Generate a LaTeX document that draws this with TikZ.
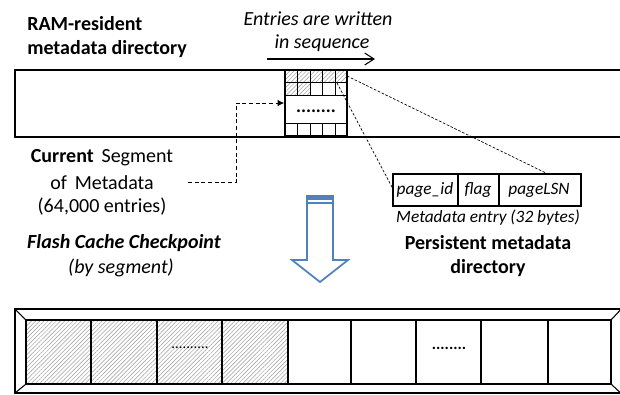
\documentclass[tikz,border=0pt]{standalone}
\usepackage{fontspec}
\setmainfont{Carlito}
\usetikzlibrary{arrows.meta,patterns.meta}
\definecolor{arrowblue}{HTML}{4F81BD}
\tikzset{
  bar/.style={line width=1.5pt},
  hatched/.style={fill=gray!12,pattern={Lines[angle=45,distance=2.2pt,line width=0.35pt]},pattern color=gray!80},
  heading/.style={font=\fontsize{15}{17}\selectfont\bfseries,inner sep=0pt},
  plain/.style={font=\fontsize{15}{17}\selectfont,inner sep=0pt},
  small/.style={font=\fontsize{13}{15}\selectfont\itshape,inner sep=0pt},
  guide/.style={line width=0.5pt,dash pattern=on 2pt off 1.2pt},
}
\begin{document}
\begin{tikzpicture}[x=0.75pt,y=-0.75pt]
\useasboundingbox (0,0) rectangle (620,394);

% headings of the RAM-resident directory
\node[heading,anchor=west] (ram1) at (27,24) {RAM-resident};
\node[heading,anchor=west] (ram2) at (27,49) {metadata directory};
\node[plain,font=\fontsize{15}{17}\selectfont\itshape] (seq1) at (318,19) {Entries are written};
\node[plain,font=\fontsize{15}{17}\selectfont\itshape] (seq2) at (322,43) {in sequence};
\coordinate (sa) at (267,59);
\coordinate (sb) at (375,59);
\draw[line width=0.8pt,-{Straight Barb[length=7pt,width=9pt]}] (sa) -- (sb);

% RAM-resident directory bar (open on the right)
\draw[bar] (625,70) -- (15,70) -- (15,137) -- (625,137);

% current segment inside the bar
\foreach \x in {285,297,310,322,335}{
  \fill[hatched] (\x,70) rectangle ++(12.4,12);
}
\fill[hatched] (285,82) rectangle (310,95);
\foreach \x in {297,310,322,335}{
  \draw[line width=0.6pt] (\x,70) -- (\x,95);
  \draw[line width=0.6pt] (\x,123) -- (\x,136);
}
\draw[line width=0.6pt] (285,82) -- (347,82);
\draw[line width=0.6pt] (285,95) -- (347,95);
\draw[line width=0.6pt] (285,123) -- (347,123);
\node[draw,line width=1.2pt,minimum width=62*0.75pt,minimum height=66*0.75pt,inner sep=0pt] (seg) at (316,103) {};
\node[inner sep=0pt,font=\fontsize{14}{14}\selectfont\bfseries] (segdots) at (316,111) {........};

% current segment label and its pointer
\node[plain] (cur1) at (102,158) {\textbf{Current}\, Segment};
\node[plain] (cur2) at (102,183) {of\, Metadata};
\node[plain] (cur3) at (102,207) {(64,000 entries)};
\coordinate (p0) at (188,182);
\coordinate (p1) at (236,182);
\coordinate (p2) at (236,103);
\draw[line width=0.7pt,dash pattern=on 3pt off 2pt,-{Latex[length=5pt,width=5pt]}] (p0) -- (p1) -- (p2) -- (seg.west);

% metadata entry layout
\node[draw,line width=0.8pt,minimum width=188*0.75pt,minimum height=32*0.75pt,inner sep=0pt] (entry) at (487,190) {};
\draw[line width=0.8pt] (458,174) -- (458,206);
\draw[line width=0.8pt] (499,174) -- (499,206);
\node[small] (f1) at (425,190) {page\_id};
\node[small] (f2) at (478,190) {flag};
\node[small] (f3) at (539,190) {pageLSN};
\node[small] (entrylab) at (488,218) {Metadata entry (32 bytes)};
\coordinate (z1) at (347,76);
\coordinate (z2) at (548,174);
\coordinate (z3) at (337,83);
\coordinate (z4) at (393,189);
\draw[guide] (z1) -- (z2);
\draw[guide] (z3) -- (z4);

% block arrow: checkpoint goes to flash
\draw[arrowblue,line width=1.3pt,fill=white,line join=miter]
  (307,196) -- (333,196) -- (333,260) -- (348,260) -- (320,282) -- (292,260) -- (307,260) -- cycle;
\fill[arrowblue] (307,196) rectangle (333,200);
\draw[arrowblue,line width=1.3pt] (307,203) -- (333,203);

% headings of the persistent directory
\node[plain,font=\fontsize{15}{17}\selectfont\bfseries\itshape] (ck1) at (124,243) {Flash Cache Checkpoint};
\node[plain,font=\fontsize{15}{17}\selectfont\itshape] (ck2) at (121,268) {(by segment)};
\node[heading] (pd1) at (488,243) {Persistent metadata};
\node[heading] (pd2) at (488,268) {directory};

% persistent directory bar with bevelled frame
\fill[hatched] (26,320) rectangle (288,384);
\draw[line width=1.2pt] (15,309) rectangle (625,393);
\draw[line width=1.2pt] (26,320) rectangle (611,384);
\draw[line width=0.8pt] (15,309) -- (26,320);
\draw[line width=0.8pt] (15,393) -- (26,384);
\draw[line width=0.8pt] (625,305) -- (611,320);
\draw[line width=0.8pt] (625,397) -- (611,384);
\foreach \x in {91,157,222,288,351,416,481,548}{
  \draw[line width=1.2pt] (\x,320) -- (\x,384);
}
\node[inner sep=0pt,font=\fontsize{11}{11}\selectfont] (fd1) at (190,348) {..........};
\node[inner sep=0pt,font=\fontsize{12}{12}\selectfont\bfseries] (fd2) at (449,348) {........};
\end{tikzpicture}
\end{document}
